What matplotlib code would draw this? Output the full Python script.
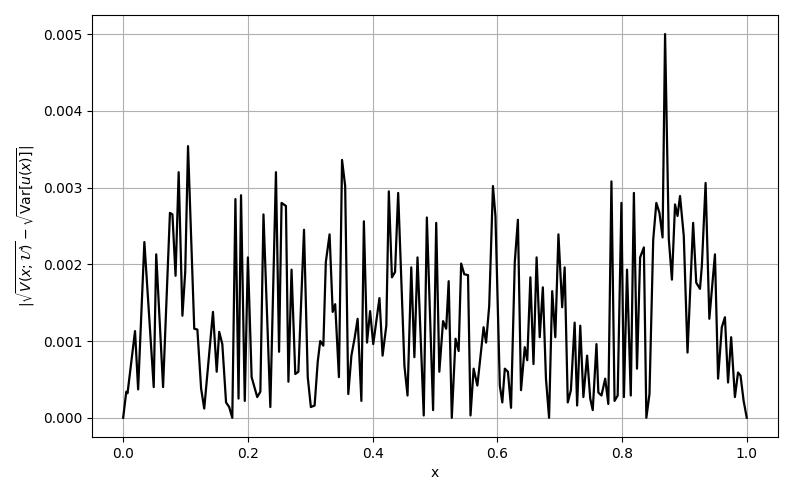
import matplotlib
matplotlib.use("Agg")
import matplotlib.pyplot as plt

# points (x, error)
x = [0.0, 0.005, 0.007, 0.019, 0.024, 0.034, 0.049, 0.053, 0.064, 0.075,
     0.079, 0.084, 0.089, 0.095, 0.0995, 0.104, 0.114, 0.119, 0.125, 0.13,
     0.144, 0.15, 0.154, 0.159, 0.165, 0.17, 0.175, 0.18, 0.185, 0.189,
     0.195, 0.2, 0.206, 0.215, 0.22, 0.225, 0.236, 0.245, 0.25, 0.254,
     0.261, 0.265, 0.27, 0.276, 0.281, 0.29, 0.296, 0.301, 0.307, 0.312,
     0.316, 0.321, 0.325, 0.331, 0.336, 0.34, 0.346, 0.351, 0.356, 0.361,
     0.366, 0.371, 0.376, 0.382, 0.386, 0.391, 0.396, 0.401, 0.411, 0.416,
     0.422, 0.426, 0.431, 0.436, 0.441, 0.451, 0.456, 0.462, 0.467, 0.472,
     0.482, 0.487, 0.497, 0.502, 0.507, 0.513, 0.518, 0.522, 0.527, 0.533,
     0.538, 0.542, 0.547, 0.553, 0.557, 0.562, 0.568, 0.578, 0.582, 0.587,
     0.593, 0.597, 0.604, 0.608, 0.612, 0.617, 0.622, 0.628, 0.633, 0.638,
     0.644, 0.648, 0.653, 0.658, 0.663, 0.668, 0.673, 0.678, 0.683, 0.688,
     0.693, 0.698, 0.704, 0.708, 0.713, 0.718, 0.724, 0.728, 0.733, 0.738,
     0.744, 0.749, 0.753, 0.759, 0.762, 0.767, 0.773, 0.778, 0.783, 0.788,
     0.793, 0.799, 0.803, 0.808, 0.814, 0.819, 0.824, 0.829, 0.835, 0.839,
     0.844, 0.85, 0.855, 0.86, 0.865, 0.869, 0.875, 0.88, 0.885, 0.889,
     0.893, 0.899, 0.905, 0.914, 0.919, 0.925, 0.928, 0.934, 0.94, 0.949,
     0.954, 0.96, 0.965, 0.97, 0.975, 0.981, 0.986, 0.99, 0.995, 1.0]
err = [0.0, 0.00034, 0.00032, 0.00113, 0.00037, 0.00229, 0.0004, 0.00213, 0.0004, 0.00267,
       0.00265, 0.00185, 0.0032, 0.00133, 0.0019, 0.00354, 0.00116, 0.00115, 0.00038, 0.00012,
       0.00138, 0.0006, 0.00112, 0.00096, 0.0002, 0.00014, 0.0, 0.00285, 0.00025, 0.0029,
       0.00022, 0.00209, 0.00053, 0.00027, 0.00034, 0.00265, 0.00014, 0.0032, 0.00086, 0.0028,
       0.00276, 0.00047, 0.00193, 0.00057, 0.0006, 0.00245, 0.00053, 0.00014, 0.00016, 0.00073,
       0.001, 0.00094, 0.00203, 0.00239, 0.00138, 0.00148, 0.00053, 0.00336, 0.00302, 0.00031,
       0.00081, 0.00103, 0.00129, 0.00022, 0.00256, 0.00098, 0.00139, 0.00096, 0.00156, 0.00081,
       0.0012, 0.00295, 0.00183, 0.0019, 0.00293, 0.00068, 0.00029, 0.00196, 0.00079, 0.00209,
       0.00003, 0.00261, 0.0001, 0.00254, 0.0006, 0.00126, 0.00116, 0.00178, 0.0, 0.00103,
       0.00087, 0.00201, 0.00187, 0.00186, 0.00003, 0.00064, 0.00042, 0.00118, 0.00098, 0.00146,
       0.00302, 0.00263, 0.00042, 0.0002, 0.00064, 0.0006, 0.00013, 0.00203, 0.00258, 0.00036,
       0.00092, 0.00075, 0.00183, 0.0007, 0.00209, 0.00105, 0.0017, 0.00051, 0.0, 0.00165,
       0.00105, 0.00239, 0.00144, 0.00196, 0.0002, 0.00036, 0.00124, 0.00016, 0.0012, 0.00027,
       0.00081, 0.00025, 0.0001, 0.00096, 0.00033, 0.00029, 0.00051, 0.00018, 0.00308, 0.00022,
       0.00029, 0.0028, 0.00027, 0.00193, 0.00029, 0.00293, 0.00064, 0.00209, 0.00222, 0.0,
       0.00031, 0.00232, 0.0028, 0.00267, 0.00235, 0.005, 0.00233, 0.0018, 0.00278, 0.00263,
       0.00289, 0.00237, 0.00085, 0.00254, 0.00176, 0.00168, 0.00198, 0.00306, 0.00129, 0.00213,
       0.00051, 0.00118, 0.00131, 0.00046, 0.00105, 0.00027, 0.00059, 0.00055, 0.00022, 0.0]

fig, ax = plt.subplots(figsize=(7.93, 4.96), dpi=100)
fig.subplots_adjust(left=0.116, right=0.981, top=0.970, bottom=0.119)

ax.plot(x, err, color='black', linewidth=1.6)
ax.grid(True, color='#b0b0b0', linewidth=0.8)
ax.set_xlabel('x')
ax.set_ylabel(r'$|\sqrt{V(x;\mathcal{U})} - \sqrt{\mathrm{Var}[u(x)]}|$')
ax.set_xlim(-0.05, 1.05)
ax.set_ylim(-0.00025, 0.00525)

fig.savefig('out.png', dpi=100)
